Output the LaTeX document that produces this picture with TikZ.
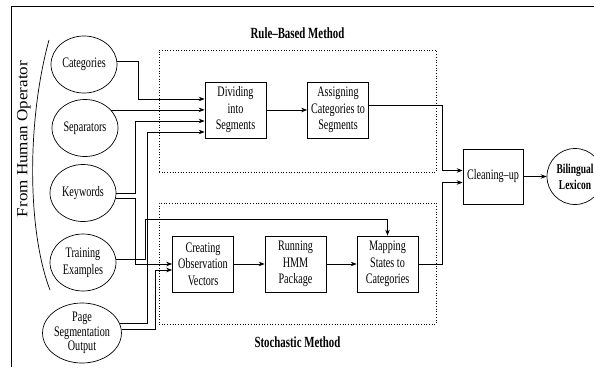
\documentclass[tikz,border=0pt]{standalone}
\usepackage{fontspec}
\setmainfont{Liberation Serif}[FakeStretch=0.7]
\newfontfamily\opfont{Liberation Serif}[FakeStretch=1.1]
\usetikzlibrary{shapes,arrows.meta}

\begin{document}
\begin{tikzpicture}[x=1pt, y=1pt, ->, >={Stealth[length=6pt,width=4.5pt]},
      line width=0.7pt,
      every node/.append style={font=\fontsize{14.5}{16.5}\selectfont},
      source/.style={draw, ellipse, minimum width=66pt, minimum height=57pt, inner sep=0pt, align=center},
      proc/.style={draw, rectangle, minimum width=61pt, minimum height=56pt, inner sep=0pt, align=center},
      method/.style={font=\fontsize{15.5}{17}\selectfont\bfseries}]
    \useasboundingbox (0,0) rectangle (594,-367);
    \draw[-] (11,-367) -- (11,-6) -- (600,-6);
    \node (FromHumanOperator) [rotate=90, font=\opfont\fontsize{15.5}{18}\selectfont] at (24,-139) {From Human Operator};
    \draw[-] (49,-40) .. controls (27,-120) and (27,-230) .. (50,-290);
    \node (Categories) [source] at (84,-64.5) {Categories};
    \node (Separators) [source] at (85,-128) {Separators};
    \node (Keywords) [source] at (83,-193) {Keywords};
    \node (TrainingExamples) [source] at (83,-262.5) {Training\\Examples};
    \node (PageSegmentation) [source, minimum height=60pt, font=\fontsize{14.5}{14.5}\selectfont] at (82,-333) {Page\\Segmentation\\Output};
    \node (RuleBased) [draw, dotted, minimum width=277pt, minimum height=122pt] at (297.5,-111) {};
    \node (RuleBasedMethod) [method] at (297.5,-33) {Rule--Based Method};
    \node (Stochastic) [draw, dotted, minimum width=277pt, minimum height=121pt] at (297.5,-263.5) {};
    \node (StochasticMethod) [method] at (297.5,-342) {Stochastic Method};
    \node (Dividing) [proc] at (235.5,-110) {Dividing\\into\\Segments};
    \node (Assigning) [proc] at (338,-110) {Assigning\\Categories to\\Segments};
    \node (Creating) [proc] at (203,-264) {Creating\\Observation\\Vectors};
    \node (Running) [proc] at (295.5,-264) {Running\\HMM\\Package};
    \node (Mapping) [proc] at (387.5,-264) {Mapping\\States to\\Categories};
    \node (Cleaningup) [proc, minimum width=60pt, minimum height=55pt] at (493,-176.5) {Cleaning--up};
    \node (BilingualLexicon) [draw, circle, minimum size=56pt, inner sep=0pt, align=center,
      font=\fontsize{13.5}{16}\selectfont\bfseries] at (575,-176.5) {Bilingual\\Lexicon};
    \draw (Categories.5) -- ++(21,0) |- ([yshift=11pt]Dividing.west);
    \draw (Separators.35) -- (Separators.35 -| Dividing.west);
    \draw (Keywords.east) -- ++(19,0) |- ([yshift=-11pt]Dividing.west);
    \draw (Keywords.-10) -- ++(20,0) |- (Creating.west);
    \draw (TrainingExamples.6) -- ++(29,0) |- ([yshift=16pt]Mapping.north) -- (Mapping.north);
    \draw (PageSegmentation.14) -- ++(28,0) |- ([yshift=-22pt]Dividing.west);
    \draw (PageSegmentation.5) -- ++(34,0) |- ([yshift=-6pt]Creating.west);
    \draw (Dividing) -- (Assigning);
    \draw (Creating) -- (Running);
    \draw (Running) -- (Mapping);
    \draw ([yshift=5pt]Assigning.east) -- ++(73.5,0) |- ([yshift=6pt]Cleaningup.west);
    \draw (Mapping.east) -- ++(24,0) |- ([yshift=-6pt]Cleaningup.west);
    \draw (Cleaningup) -- (BilingualLexicon);
  \end{tikzpicture}
\end{document}
